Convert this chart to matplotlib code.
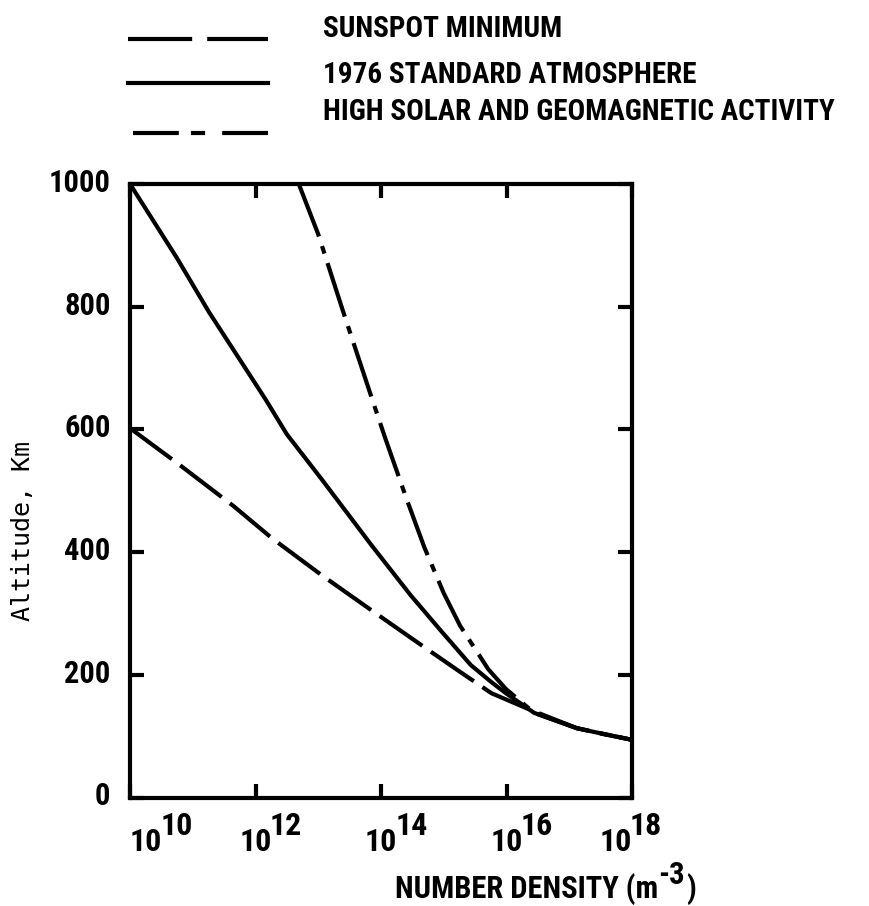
import numpy as np
import matplotlib
matplotlib.use('Agg')
import matplotlib.pyplot as plt
from matplotlib import font_manager as fm
from matplotlib.lines import Line2D
from matplotlib.transforms import ScaledTranslation


def as_num(v, table, default):
    if isinstance(v, str):
        return table.get(v, default)
    return v


def pick_bold_font():
    # the original lettering is a bold, narrow face
    wanted = ['Roboto Condensed', 'Liberation Sans Narrow', 'Open Sans Condensed',
              'DejaVu Sans', 'Noto Sans', 'Open Sans', 'Roboto']
    best = None
    for f in fm.fontManager.ttflist:
        st = as_num(f.stretch, fm.stretch_dict, 500)
        wt = as_num(f.weight, fm.weight_dict, 400)
        narrow = st < 500 or 'Condensed' in f.name or 'Narrow' in f.name
        if narrow and wt >= 600 and f.name in wanted:
            rank = wanted.index(f.name)
            if best is None or rank < best[0]:
                best = (rank, f.fname)
    return best[1] if best else None


path = pick_bold_font()
if path:
    BF    = fm.FontProperties(fname=path)
    scale = 1.0
else:
    BF    = fm.FontProperties(family='DejaVu Sans Mono', weight='bold')
    scale = 0.86


def bf(size):
    p = BF.copy()
    p.set_size(size * scale)
    return p


# -- curves (log10 number density, altitude km)
std_logn = [10.0, 10.75, 11.26, 11.71, 12.16, 12.50, 13.06, 13.40, 13.85,
            14.47, 14.97, 15.43, 15.76, 15.99, 16.44, 17.12, 17.57, 18.0]
std_alt  = [1000, 879, 791, 720, 649, 592, 518, 472, 411,
            330, 270, 216, 188, 170, 138, 113, 103, 94]

sun_logn = [10.0, 10.78, 11.65, 12.27, 13.06, 13.85, 14.69, 15.20, 15.76,
            16.33, 17.12, 17.57, 18.0]
sun_alt  = [602, 543, 475, 422, 362, 305, 245, 209, 170,
            145, 113, 103, 94]

hi_logn  = [12.69, 13.0, 13.40, 13.85, 14.07, 14.41, 14.69, 15.0, 15.26,
            15.71, 15.99, 16.44, 17.12, 17.57, 18.0]
hi_alt   = [1000, 918, 791, 652, 585, 486, 408, 333, 280,
            209, 177, 138, 113, 103, 94]

labels   = ['SUNSPOT MINIMUM', '1976 STANDARD ATMOSPHERE',
            'HIGH SOLAR AND GEOMAGNETIC ACTIVITY']

xexp     = [10, 12, 14, 16, 18]
yticks   = [0, 200, 400, 600, 800, 1000]

W, H     = 869, 906
fig      = plt.figure(figsize=(W / 100, H / 100), dpi=100)
ax       = fig.add_axes([130 / W, 1 - 797.5 / H, 502 / W, 613.5 / H])

lw       = 3.0
ls_sun   = (0, (12.5, 2.5))
ls_std   = '-'
ls_hi    = (0, (13.5, 2.4, 1.9, 2.4))

ax.plot(10.0 ** np.array(sun_logn), sun_alt, color='k', lw=lw, ls=ls_sun)
ax.plot(10.0 ** np.array(std_logn), std_alt, color='k', lw=lw, ls=ls_std)
ax.plot(10.0 ** np.array(hi_logn),  hi_alt,  color='k', lw=lw, ls=ls_hi)

ax.set_xscale('log')
ax.set_xlim(1e10, 1e18)
ax.set_ylim(0, 1000)

for s in ax.spines.values():
    s.set_linewidth(3.0)

ax.set_xticks([10.0 ** e for e in xexp])
ax.set_xticklabels(['10'] * len(xexp))
ax.minorticks_off()
ax.set_yticks(yticks)
ax.set_yticklabels([str(v) for v in yticks])

ax.tick_params(direction='in', length=10, width=3, top=True, right=True)
ax.tick_params(axis='x', pad=21)
ax.tick_params(axis='y', pad=14)

xl = ax.get_xticklabels()
for t in xl:
    t.set_fontproperties(bf(23))
xl[0].set_ha('left')
xl[-1].set_ha('right')

up = ScaledTranslation(0, 3 / 72, fig.dpi_scale_trans)
for t in ax.get_yticklabels():
    t.set_fontproperties(bf(22))
    t.set_transform(t.get_transform() + up)

fig.canvas.draw()

# exponents of the x tick labels, set against each "10"
for t, e in zip(ax.get_xticklabels(), xexp):
    ax.annotate(str(e), xy=(1, 0), xycoords=t, xytext=(-1.5, 11.5),
                textcoords='offset points', ha='left', va='bottom',
                fontproperties=bf(23), annotation_clip=False)

# axis titles
xt = fig.text(395 / W, 1 - 898 / H, 'NUMBER DENSITY (m', fontproperties=bf(22),
              ha='left', va='baseline')
fig.canvas.draw()
ex = ax.annotate('-3', xy=(1, 0), xycoords=xt, xytext=(0, 11),
                 textcoords='offset points', ha='left', va='bottom',
                 fontproperties=bf(22), annotation_clip=False)
ax.annotate(')', xy=(1, 0), xycoords=ex, xytext=(1, -11),
            textcoords='offset points', ha='left', va='bottom',
            fontproperties=bf(22), annotation_clip=False)

fig.text(23 / W, 1 - 531 / H, 'Altitude, Km', rotation=90,
         family='DejaVu Sans Mono', weight='normal', fontsize=18,
         ha='center', va='center')

# legend drawn by hand
leg_y    = [39, 83, 133]
leg_x0   = [128, 128, 133]
leg_txt  = [37, 83, 120]
leg_ls   = [(0, (15.4, 3.6)), '-', (0, (11.0, 2.9, 3.4, 4.1))]
for yl, x0, yt, ls, lab in zip(leg_y, leg_x0, leg_txt, leg_ls, labels):
    fig.add_artist(Line2D([x0 / W, 268 / W], [1 - yl / H, 1 - yl / H],
                          transform=fig.transFigure, color='k', lw=lw, ls=ls))
    fig.text(323 / W, 1 - yt / H, lab, fontproperties=bf(21),
             ha='left', va='baseline')

fig.savefig('out.png', dpi=100)
